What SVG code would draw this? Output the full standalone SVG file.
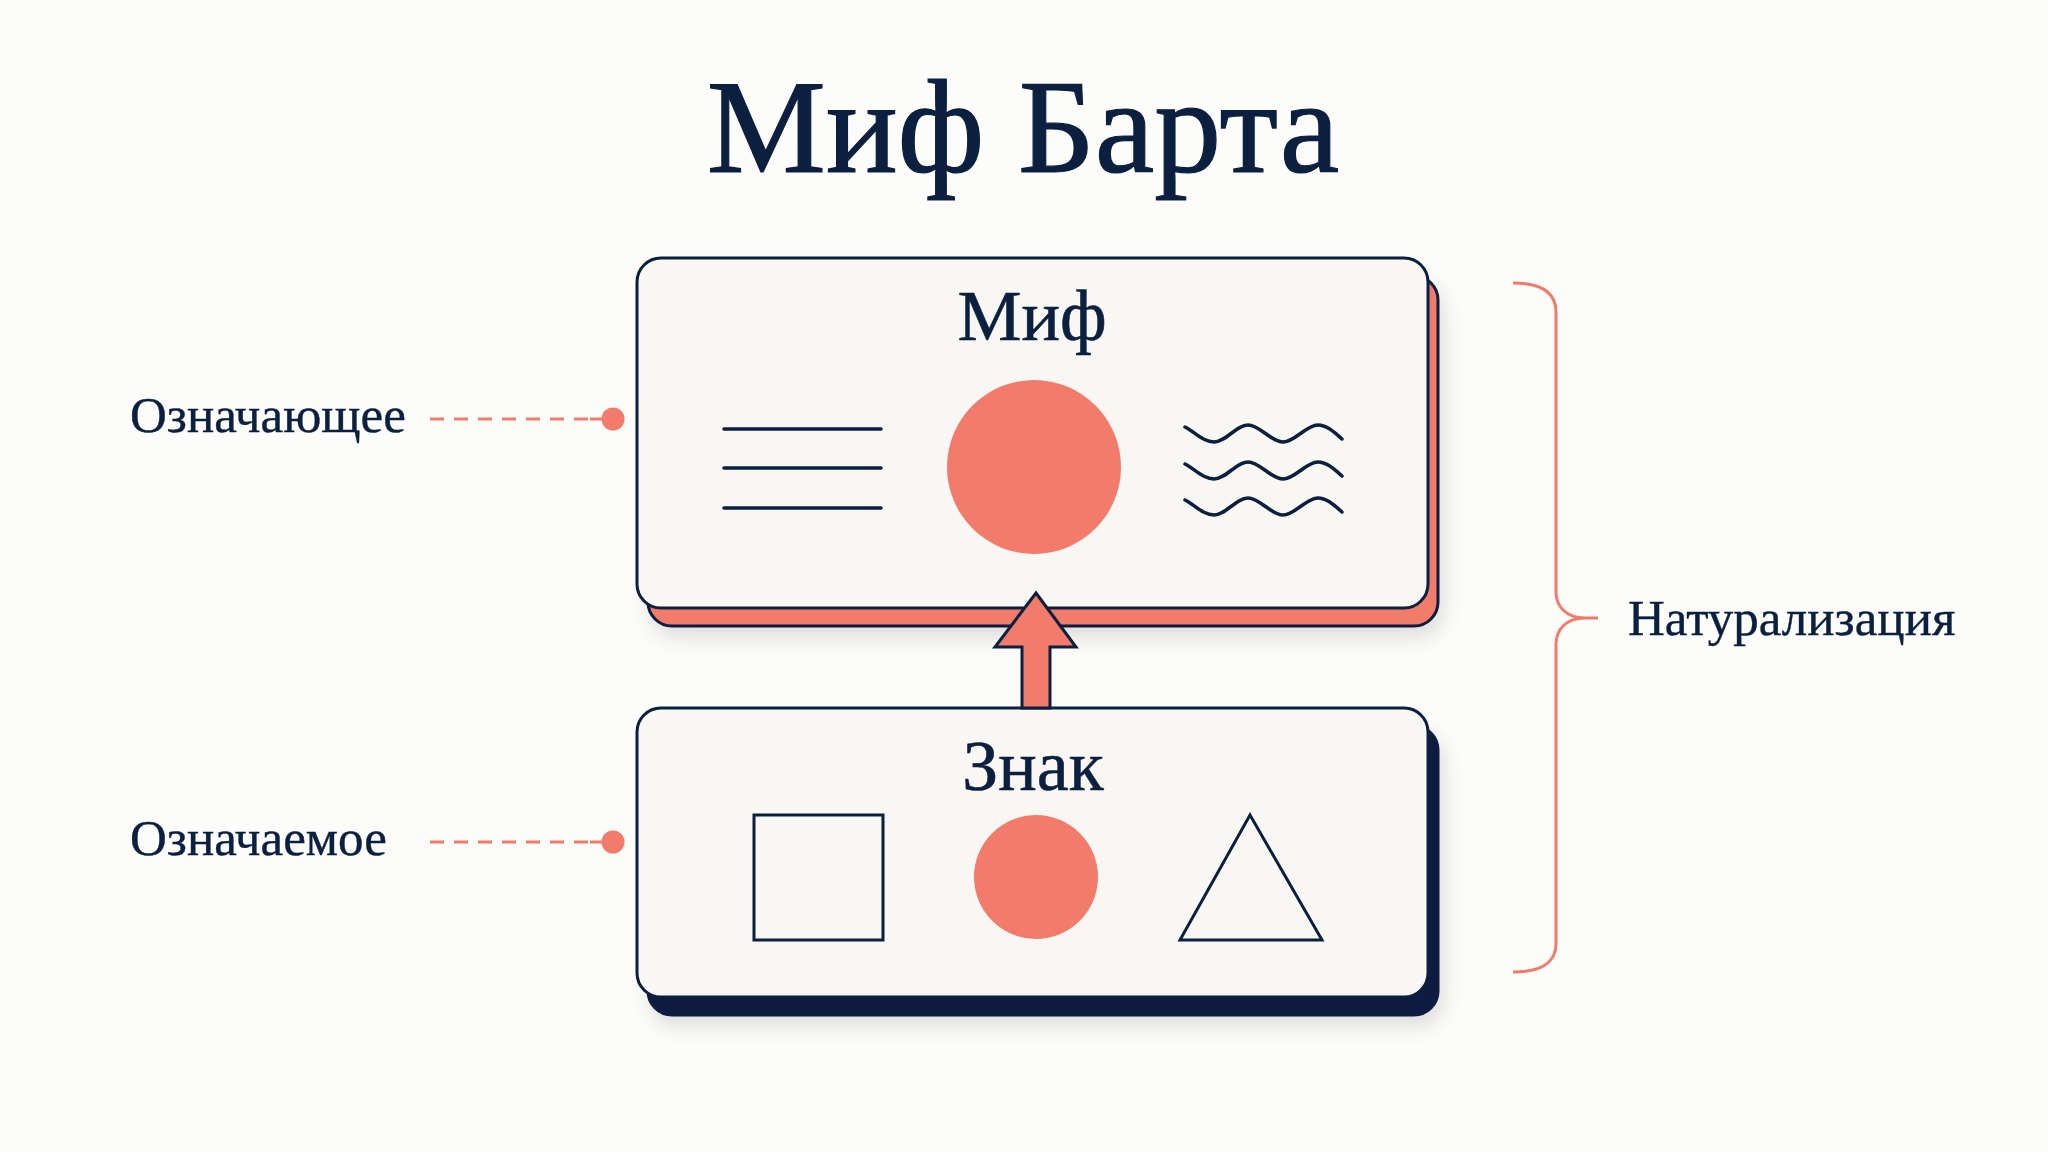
<svg xmlns="http://www.w3.org/2000/svg" width="2048" height="1152" viewBox="0 0 2048 1152">
<defs>
<style>
.ink{fill:#0b1f3f;font-family:"Liberation Serif","Times New Roman",serif}
.box{fill:#f8f7f3;stroke:#0b1f3f;stroke-width:3}
.ln{fill:none;stroke:#0b1f3f;stroke-width:3.5;stroke-linecap:round}
.dash{fill:none;stroke:#f27b6b;stroke-width:3;stroke-dasharray:14 10}
.coral{fill:#f27b6b}
</style>
<filter id="soft" x="-10%" y="-10%" width="125%" height="135%">
<feDropShadow dx="4" dy="10" stdDeviation="10" flood-color="#000" flood-opacity="0.12"/>
</filter>
<path id="wave" d="M1185,427 C1195,432 1203,442 1214,442 C1226,442 1236,425 1248,425 C1260,425 1271,442 1283,442 C1295,442 1306,425 1318,425 C1327,425 1335,433 1342,439"/>
</defs>
<rect width="2048" height="1152" fill="#fcfcfb"/>
<text class="ink" x="1023" y="172" font-size="134" text-anchor="middle" stroke="#0b1f3f" stroke-width="1.2">Миф Барта</text>

<g id="myth">
<rect x="648" y="276" width="790" height="350" rx="24" fill="#f27b6b" stroke="#0b1f3f" stroke-width="3" filter="url(#soft)"/>
<rect class="box" x="637" y="258" width="791" height="350" rx="24"/>
<text class="ink" x="1032" y="340" font-size="72" text-anchor="middle" stroke="#0b1f3f" stroke-width="0.6">Миф</text>
<line class="ln" x1="724" y1="429" x2="881" y2="429"/>
<line class="ln" x1="724" y1="468" x2="881" y2="468"/>
<line class="ln" x1="724" y1="508" x2="881" y2="508"/>
<circle class="coral" cx="1034" cy="467" r="87"/>
<use href="#wave" class="ln"/>
<use href="#wave" class="ln" y="37"/>
<use href="#wave" class="ln" y="73"/>
</g>

<g id="sign">
<rect x="648" y="726" width="790" height="289" rx="24" fill="#0b1f3f" stroke="#0b1f3f" stroke-width="3" filter="url(#soft)"/>
<rect class="box" x="637" y="708" width="791" height="289" rx="24"/>
<text class="ink" x="1033" y="790" font-size="72" text-anchor="middle" stroke="#0b1f3f" stroke-width="0.6">Знак</text>
<rect x="754" y="815" width="129" height="125" fill="none" stroke="#0b1f3f" stroke-width="3"/>
<circle class="coral" cx="1036" cy="877" r="62"/>
<path d="M1250,815 L1322,940 L1180,940 Z" fill="none" stroke="#0b1f3f" stroke-width="3" stroke-linejoin="miter"/>
</g>

<g id="connectors">
<path d="M1036,593 L1076,647 L1050,647 L1050,708 L1022,708 L1022,647 L995,647 Z" fill="#f27b6b" stroke="#0b1f3f" stroke-width="3" stroke-linejoin="miter"/>
<line class="dash" x1="430" y1="419" x2="592" y2="419"/>
<line x1="590" y1="419" x2="610" y2="419" stroke="#f27b6b" stroke-width="3"/>
<circle class="coral" cx="613" cy="419" r="11.5"/>
<line class="dash" x1="430" y1="842" x2="592" y2="842"/>
<line x1="590" y1="842" x2="610" y2="842" stroke="#f27b6b" stroke-width="3"/>
<circle class="coral" cx="613" cy="842" r="11.5"/>
<path d="M1513,283 C1540,283 1556,292 1556,312 L1556,592 C1556,606 1566,618 1585,618 L1598,618 M1585,618 C1566,618 1556,630 1556,644 L1556,944 C1556,963 1540,972 1513,972" fill="none" stroke="#f27b6b" stroke-width="3"/>
</g>

<g id="labels">
<text class="ink" x="130" y="432" font-size="51" stroke="#0b1f3f" stroke-width="0.4">Означающее</text>
<text class="ink" x="130" y="855" font-size="51" stroke="#0b1f3f" stroke-width="0.4">Означаемое</text>
<text class="ink" x="1628" y="635" font-size="51" stroke="#0b1f3f" stroke-width="0.4">Натурализация</text>
</g>
</svg>
